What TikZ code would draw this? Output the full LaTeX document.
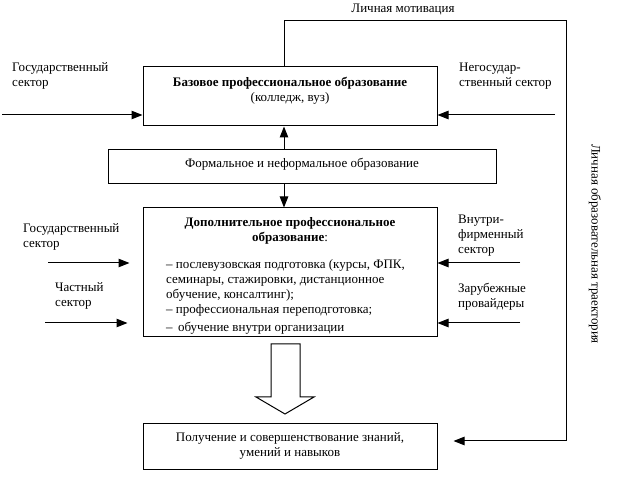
\documentclass[tikz,border=0pt]{standalone}
\usepackage{fontspec}
\setmainfont{Liberation Serif}
\usetikzlibrary{arrows.meta,calc,positioning}

\begin{document}
\begin{tikzpicture}[x=1pt,y=-1pt]
		\tikzstyle{every node}=[font=\fontsize{13}{15}\selectfont, inner sep=0pt]
		\tikzstyle{box}=[draw, line width=1pt]
		\tikzstyle{arr}=[line width=1pt, -{Triangle[length=11pt,width=8.5pt]}]
		\useasboundingbox (0,0) rectangle (622,478);
		% boxes
		\node[box, minimum width=294pt, minimum height=59pt] (base) at (290,96.5) {};
		\node[box, minimum width=388pt, minimum height=34pt] (formal) at (302,167) {};
		\node[box, minimum width=294pt, minimum height=129pt] (extra) at (290,272.5) {};
		\node[box, minimum width=294pt, minimum height=46pt] (result) at (290,447) {};
		% box texts
		\node[align=center] (basetxt) at (290,91) {\textbf{Базовое профессиональное образование}\\(колледж, вуз)};
		\node (formaltxt) at (302,164) {Формальное и неформальное образование};
		\node[align=center] (extratitle) at (290,230.5) {\textbf{Дополнительное профессиональное}\\\textbf{образование}:};
		\node[align=left, anchor=north west] (extralist) at (166,259) {– послевузовская подготовка (курсы, ФПК,\\семинары, стажировки, дистанционное\\обучение, консалтинг);\\– профессиональная переподготовка;\\[3pt]–\, обучение внутри организации};
		\node[align=center] (resulttxt) at (290,446) {Получение и совершенствование знаний,\\умений и навыков};
		% side labels
		\node[align=left, anchor=west] (gos1) at (12,76) {Государственный\\сектор};
		\node[align=left, anchor=west] (negos) at (459,76.5) {Негосудар-\\ственный сектор};
		\node[align=left, anchor=west] (gos2) at (23,236.5) {Государственный\\сектор};
		\node[align=left, anchor=west] (chast) at (55,296) {Частный\\сектор};
		\node[align=left, anchor=west] (vnutri) at (458,235.5) {Внутри-\\фирменный\\сектор};
		\node[align=left, anchor=west] (zarub) at (458,296.5) {Зарубежные\\провайдеры};
		\node (motiv) at (403,10) {Личная мотивация};
		\node[rotate=-90] (trajtxt) at (595,244) {Личная образовательная траектория};
		% inputs
		\coordinate (gosin) at (2,115);
		\coordinate (negosin) at (555,115);
		\coordinate (gos2in) at (48,263);
		\coordinate (chastin) at (45,323);
		\coordinate (vnutriin) at (520,263);
		\coordinate (zarubin) at (520,323);
		\draw[arr] (gosin) -- (gosin -| base.west);
		\draw[arr] (negosin) -- (negosin -| base.east);
		\draw[arr, shorten >=13pt] (gos2in) -- (gos2in -| extra.west);
		\draw[arr, shorten >=15pt] (chastin) -- (chastin -| extra.west);
		\draw[arr] (vnutriin) -- (vnutriin -| extra.east);
		\draw[arr] (zarubin) -- (zarubin -| extra.east);
		% vertical links
		\coordinate (motl) at (284,21);
		\coordinate (motr) at (566,21);
		\coordinate (traj) at (566,441);
		\draw[arr] (formal.north -| motl) -- (base.south -| motl);
		\draw[arr] (formal.south -| motl) -- (extra.north -| motl);
		\draw[arr, shorten >=16pt] (base.north -| motl) -- (motl) -- (motr) -- (traj) -- (traj -| result.east);
		% hollow arrow
		\draw[line width=1pt] (271,344) -- (300,344) -- (300,397) -- (314,397) -- (285,414) -- (256,397) -- (271,397) -- cycle;
	\end{tikzpicture}
\end{document}
